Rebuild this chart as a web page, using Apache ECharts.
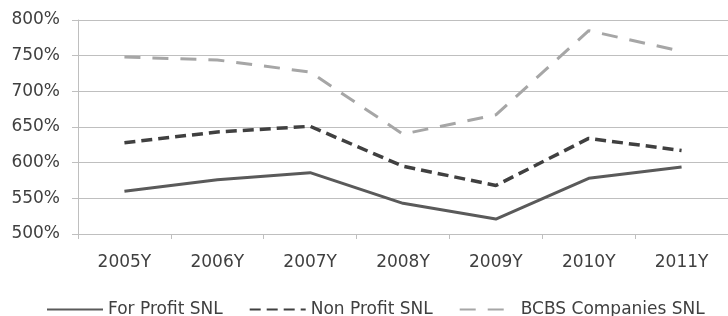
<!DOCTYPE html>
<html>
<head>
<meta charset="utf-8">
<script src="https://cdn.jsdelivr.net/npm/echarts@6/dist/echarts.min.js"></script>
<style>
  html, body { margin: 0; padding: 0; background: #fff; }
  #main { width: 728px; height: 316px; }
</style>
</head>
<body>
<div id="main"></div>
<script>
var years = ['2005Y', '2006Y', '2007Y', '2008Y', '2009Y', '2010Y', '2011Y'];
var forProfit = [560, 576, 586, 543, 521, 578, 594];
var nonProfit = [628, 643, 651, 595, 568, 634, 617];
var bcbs = [748, 744, 727, 640, 667, 785, 756];

var labelFont = 'DejaVu Sans';
var textColor = '#404040';

echarts.init(document.getElementById('main')).setOption({
  animation: false,
  grid: { left: 78, right: 0, top: 20, bottom: 82 },
  legend: {
    left: 41,
    top: 296,
    itemWidth: 56,
    itemHeight: 14,
    itemGap: 26,
    itemStyle: { opacity: 0 },
    textStyle: { fontFamily: labelFont, fontSize: 17, color: textColor },
    data: ['For Profit SNL', 'Non Profit SNL', 'BCBS Companies SNL']
  },
  xAxis: {
    type: 'category',
    data: years,
    boundaryGap: true,
    axisLine: { lineStyle: { color: '#bfbfbf', width: 1 } },
    axisTick: { show: true, length: 5, lineStyle: { color: '#bfbfbf' } },
    axisLabel: { fontFamily: labelFont, fontSize: 17, color: textColor, margin: 20 }
  },
  yAxis: {
    type: 'value',
    min: 500,
    max: 800,
    interval: 50,
    axisLine: { show: true, lineStyle: { color: '#bfbfbf', width: 1 } },
    axisTick: { show: true, length: 6, lineStyle: { color: '#bfbfbf' } },
    splitLine: { lineStyle: { color: '#bfbfbf', width: 1 } },
    axisLabel: { fontFamily: labelFont, fontSize: 17, color: textColor, margin: 18,
      formatter: function (v) { return v + '%'; } }
  },
  series: [
    {
      name: 'For Profit SNL', type: 'line', data: forProfit, symbol: 'none',
      lineStyle: { color: '#5a5a5a', width: 3 }, itemStyle: { color: '#5a5a5a' }
    },
    {
      name: 'Non Profit SNL', type: 'line', data: nonProfit, symbol: 'none',
      lineStyle: { color: '#404040', width: 3.5, type: [11, 6] }, itemStyle: { color: '#404040' }
    },
    {
      name: 'BCBS Companies SNL', type: 'line', data: bcbs, symbol: 'none',
      lineStyle: { color: '#a6a6a6', width: 3, type: [16, 12] }, itemStyle: { color: '#a6a6a6' }
    }
  ]
});
</script>
</body>
</html>
